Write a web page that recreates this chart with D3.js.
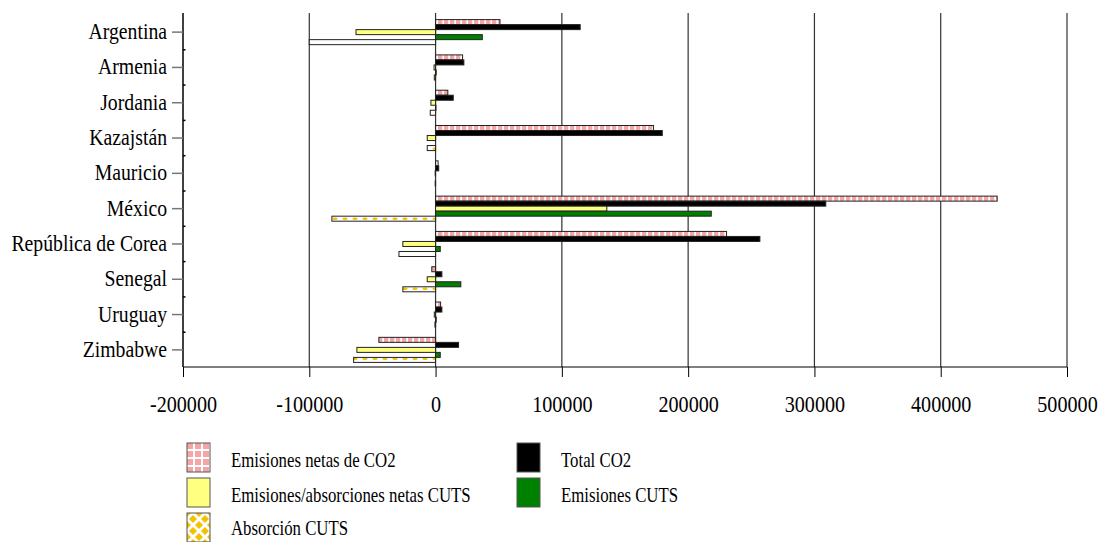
<!DOCTYPE html>
<html><head><meta charset="utf-8">
<script src="https://cdn.jsdelivr.net/npm/d3@7/dist/d3.min.js"></script>
<style>
body{margin:0;background:#fff;}
svg text{font-family:"Liberation Serif","Times New Roman",serif;fill:#000;}
</style></head>
<body><svg id="c" width="1101" height="542"></svg>
<script>
const countries = ["Argentina","Armenia","Jordania","Kazajstán","Mauricio","México","República de Corea","Senegal","Uruguay","Zimbabwe"];
const seriesNames = ["Emisiones netas de CO2","Total CO2","Emisiones/absorciones netas CUTS","Emisiones CUTS","Absorción CUTS"];
const netCO2    = [51000, 21400, 9700, 172600, 2000, 444700, 230400, -3000, 4000, -44900];
const totalCO2  = [114500, 22400, 14000, 179500, 2500, 309000, 256800, 5000, 5000, 18200];
const netCUTS   = [-63000, -1200, -3700, -6600, -300, 135600, -25900, -6600, -1000, -62300];
const emisCUTS  = [37000, 500, 300, 0, 0, 218300, 3700, 20000, 500, 3700];
const absCUTS   = [-100000, -1000, -4200, -6600, -300, -82100, -29000, -25900, -500, -64900];
const xTicks = [-200000,-100000,0,100000,200000,300000,400000,500000];

const seriesData = [netCO2,totalCO2,netCUTS,emisCUTS,absCUTS];
const fills = ["url(#pPink)","#000000","#ffff80","#008000","url(#pGold)"];
const legendFills = ["url(#pPinkL)","#000000","#ffff80","#008000","url(#pGoldL)"];

const svg = d3.select("#c");
const defs = svg.append("defs");
// bar patterns
const pp = defs.append("pattern").attr("id","pPink").attr("patternUnits","userSpaceOnUse").attr("width",6).attr("height",6);
pp.append("rect").attr("width",6).attr("height",6).attr("fill","#f4a6a6");
pp.append("rect").attr("x",4.3).attr("width",1.7).attr("height",6).attr("fill","#fff");
const pg = defs.append("pattern").attr("id","pGold").attr("patternUnits","userSpaceOnUse").attr("width",10).attr("height",10);
pg.append("rect").attr("width",10).attr("height",10).attr("fill","#fff");
pg.append("ellipse").attr("cx",5).attr("cy",8.7).attr("rx",2.6).attr("ry",1.3).attr("fill","#f2c200");
// legend patterns
const ppl = defs.append("pattern").attr("id","pPinkL").attr("patternUnits","userSpaceOnUse").attr("width",8).attr("height",8);
ppl.append("rect").attr("width",8).attr("height",8).attr("fill","#f4a6a6");
ppl.append("rect").attr("x",6).attr("width",2).attr("height",8).attr("fill","#fff");
ppl.append("rect").attr("y",6).attr("width",8).attr("height",2).attr("fill","#fff");
const pgl = defs.append("pattern").attr("id","pGoldL").attr("patternUnits","userSpaceOnUse").attr("width",12).attr("height",12);
pgl.append("rect").attr("width",12).attr("height",12).attr("fill","#fff");
pgl.append("path").attr("d","M0,0 L4,0 L0,4 Z M12,0 L8,0 L12,4 Z M0,12 L4,12 L0,8 Z M12,12 L8,12 L12,8 Z M6,2 L10,6 L6,10 L2,6 Z").attr("fill","#f2c200");

const mLeft = 183, mRight = 1067, mTop = 13, mBottom = 367;
const x = d3.scaleLinear().domain([-200000,500000]).range([mLeft,mRight]);
const y = d3.scaleBand().domain(countries).range([15,mBottom]).paddingInner(0.29).paddingOuter(0.13);
const ySub = d3.scaleBand().domain(d3.range(5)).range([0,y.bandwidth()]);

// grid lines
svg.append("g").selectAll("line").data(xTicks.slice(1)).join("line")
  .attr("x1",d=>x(d)).attr("x2",d=>x(d)).attr("y1",mTop).attr("y2",mBottom)
  .attr("stroke","#333").attr("stroke-width",1.2);

// bars
const g = svg.append("g");
seriesData.forEach((vals,si)=>{
  g.append("g").selectAll("rect").data(vals).join("rect")
    .attr("x",d=>x(Math.min(0,d)))
    .attr("width",d=>Math.abs(x(d)-x(0)))
    .attr("y",(d,i)=>y(countries[i])+ySub(si))
    .attr("height",ySub.bandwidth())
    .attr("fill",fills[si])
    .attr("stroke",d=>d===0?"none":"#222").attr("stroke-width",1);
});

const sx = 0.84;
// x axis
const xa = svg.append("g").attr("transform",`translate(0,${mBottom})`)
  .call(d3.axisBottom(x).tickValues(xTicks).tickSize(10).tickFormat(d=>String(d)));
xa.select(".domain").attr("stroke","#000").attr("stroke-width",1.2).attr("d",`M${mLeft},0H${mRight}`);
xa.selectAll(".tick line").attr("stroke","#000");
xa.selectAll(".tick text").attr("font-size",24).attr("dy",0).attr("y",45)
  .attr("transform",`scale(${sx},1)`);

// y axis
const ya = svg.append("g").attr("transform",`translate(${mLeft},0)`)
  .call(d3.axisLeft(y).tickSize(11).tickPadding(5));
ya.select(".domain").attr("stroke","#000").attr("stroke-width",1.5).attr("d",`M0,${mTop}V${mBottom}`);
ya.selectAll(".tick line").attr("stroke","#777").attr("stroke-width",1.5);
ya.selectAll(".tick text").attr("font-size",23.5).attr("x",-16/sx).attr("dy","0.3em")
  .attr("transform",`scale(${sx},1)`);
// minor ticks between categories
svg.append("g").selectAll("line").data(countries.slice(1)).join("line")
  .attr("x1",mLeft).attr("x2",mLeft+2.5)
  .attr("y1",d=>y(d)-y.step()*y.paddingInner()/2).attr("y2",d=>y(d)-y.step()*y.paddingInner()/2)
  .attr("stroke","#000").attr("stroke-width",1.5);

// legend
const legendItems = [
  {name:seriesNames[0], fill:legendFills[0], x:187, y:443, ty:23.5},
  {name:seriesNames[2], fill:legendFills[2], x:187, y:478, ty:23.5},
  {name:seriesNames[4], fill:legendFills[4], x:187, y:513, ty:22},
  {name:seriesNames[1], fill:legendFills[1], x:517, y:443, ty:23.5},
  {name:seriesNames[3], fill:legendFills[3], x:517, y:478, ty:23.5}
];
const lg = svg.append("g").selectAll("g").data(legendItems).join("g")
  .attr("transform",d=>`translate(${d.x},${d.y})`);
lg.append("rect").attr("width",23).attr("height",29).attr("fill",d=>d.fill).attr("stroke","#555").attr("stroke-width",1);
lg.append("text").attr("transform",d=>`translate(44,${d.ty}) scale(0.8,1)`).attr("font-size",21).text(d=>d.name);
</script></body></html>
